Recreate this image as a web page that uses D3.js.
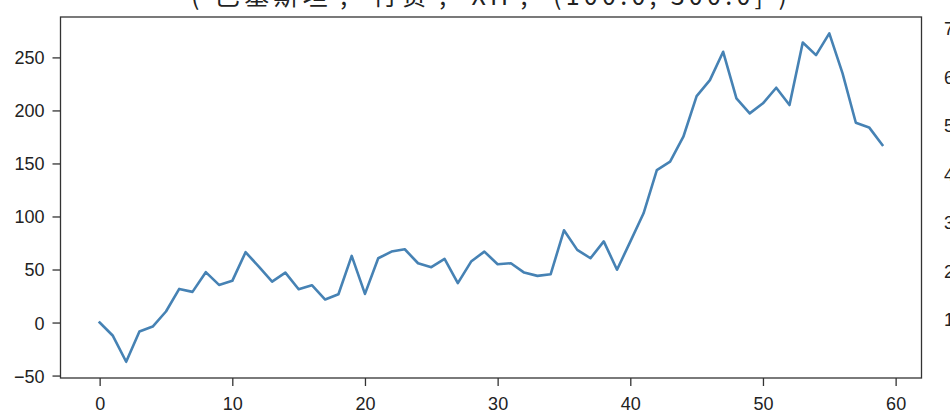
<!DOCTYPE html>
<html><head><meta charset="utf-8">
<script src="https://cdn.jsdelivr.net/npm/d3@7"></script>
<style>html,body{margin:0;padding:0;background:#fff;}svg{display:block;}</style>
</head><body>
<svg id="c" width="950" height="416"></svg>
<script>
const titleText = "('巴基斯坦', '行贷', 'XH', '(100.0, 300.0]')";
const xValues = d3.range(0, 60);
const seriesValues = [0, -12.5, -37, -8.5, -3.8, 10.4, 31.7, 28.9, 47.5, 35.5,
  39.3, 66.3, 52.8, 38.6, 47.1, 31.4, 35.2, 21.7, 26.7, 62.8,
  27, 60.6, 66.9, 69.1, 55.9, 52.2, 60, 37.1, 57.5, 66.9,
  55, 55.9, 47.1, 44, 45.6, 87, 68.5, 60.6, 76.5, 49.8,
  76.3, 103, 143.8, 151.7, 175.2, 213.5, 228.6, 255.3, 211.4, 197.2,
  206.7, 221.4, 205.1, 264.1, 252.2, 272.6, 234.9, 188.4, 184, 167.4];
const xTicks = [0, 10, 20, 30, 40, 50, 60];
const yTicks = [-50, 0, 50, 100, 150, 200, 250];
const rightLabels = ["7", "6", "5", "4", "3", "2", "1"];

const svg = d3.select("#c");
const L = 60.5, R = 921.5, T = 17, B = 378;
const x = d3.scaleLinear().domain([-2.95, 61.95]).range([L, R]);
const y = d3.scaleLinear().domain([-52.3, 288.1]).range([B, T]);
const font = "'Liberation Sans', Arial, sans-serif";

// line
svg.append("path")
  .datum(seriesValues)
  .attr("fill", "none")
  .attr("stroke", "#4682b4")
  .attr("stroke-width", 2.6)
  .attr("stroke-linejoin", "round")
  .attr("stroke-linecap", "square")
  .attr("d", d3.line().x((d, i) => x(xValues[i])).y(d => y(d)));

// axes
const xAxis = d3.axisBottom(x).tickValues(xTicks).tickSize(8).tickPadding(10).tickFormat(d3.format("d"));
const yAxis = d3.axisLeft(y).tickValues(yTicks).tickSize(8).tickPadding(8).tickFormat(d => d < 0 ? "\u2212" + Math.abs(d) : d);
const gx = svg.append("g").attr("transform", `translate(0,${B})`).call(xAxis);
const gy = svg.append("g").attr("transform", `translate(${L},0)`).call(yAxis);
[gx, gy].forEach(g => {
  g.select(".domain").remove();
  g.selectAll("line").attr("stroke", "#333").attr("stroke-width", 1.3);
  g.selectAll("text").attr("fill", "#222").style("font-family", font).style("font-size", "18px");
});
gy.selectAll("text").attr("dy", "0.36em");
gx.selectAll("text").attr("dy", "0.76em");

// frame
svg.append("rect").attr("x", L).attr("y", T).attr("width", R - L).attr("height", B - T)
  .attr("fill", "none").attr("stroke", "#333").attr("stroke-width", 1.3);

// title (cut off at top)
svg.append("text")
  .attr("x", (L + R) / 2 - 2).attr("y", 4.5)
  .attr("text-anchor", "middle")
  .attr("textLength", 596).attr("lengthAdjust", "spacing")
  .style("font-family", "'Noto Sans CJK SC', sans-serif").style("font-size", "25px")
  .attr("fill", "#222")
  .text(titleText);

// partially visible labels at right edge
const yr = d3.scalePoint().domain(rightLabels).range([29, 320]);
svg.append("g").selectAll("text").data(rightLabels).join("text")
  .attr("x", 944).attr("y", d => yr(d)).attr("dy", "0.36em")
  .style("font-family", font).style("font-size", "18px").attr("fill", "#222")
  .text(d => d);
</script>
</body></html>
